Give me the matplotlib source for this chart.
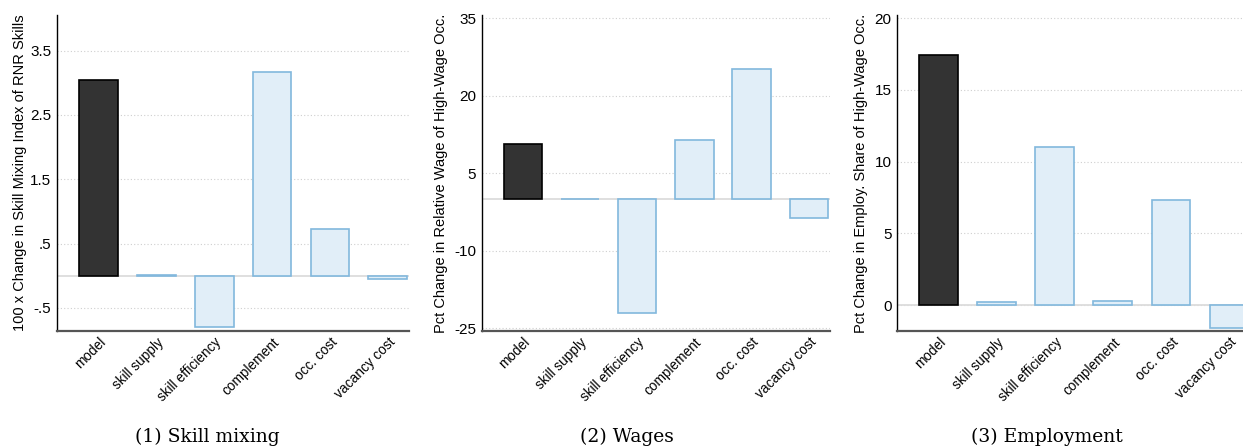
import matplotlib
matplotlib.use('Agg')
import matplotlib.pyplot as plt
import numpy as np

matplotlib.rcParams['font.family'] = ['Liberation Sans', 'DejaVu Sans']

# bar labels shared by all panels
categories = ["model", "skill supply", "skill efficiency", "complement",
              "occ. cost", "vacancy cost"]

skill_mixing = [3.05, 0.01, -0.80, 3.17, 0.72, -0.05]
wages = [10.6, 0.0, -22.1, 11.4, 25.3, -3.6]
employment = [17.4, 0.25, 11.0, 0.27, 7.35, -1.56]

ylabels = ["100 x Change in Skill Mixing Index of RNR Skills",
           "Pct Change in Relative Wage of High-Wage Occ.",
           "Pct Change in Employ. Share of High-Wage Occ."]
captions = ["(1) Skill mixing", "(2) Wages", "(3) Employment"]

yticks = [[-0.5, 0.5, 1.5, 2.5, 3.5],
          [-25, -10, 5, 20, 35],
          [0, 5, 10, 15, 20]]
yticklabels = [["-.5", ".5", "1.5", "2.5", "3.5"],
               ["-25", "-10", "5", "20", "35"],
               ["0", "5", "10", "15", "20"]]
ylims = [(-0.86, 4.05), (-25.5, 35.6), (-1.8, 20.2)]

DARK = "#333333"
LIGHT = "#e1eef8"
LIGHT_EDGE = "#82b8dd"

W, H = 1243, 448
fig = plt.figure(figsize=(W / 100, H / 100), dpi=100)

# axes boxes in pixels: left, right, top, bottom
boxes = [(56.7, 409.3), (481.7, 830.0), (897.0, 1250.5)]
top_px, bot_px = 15.3, 331.0
label_x = [-0.085, -0.096, -0.081]
caption_x = [207, 627, 1047]

datasets = [skill_mixing, wages, employment]

for j, values in enumerate(datasets):
    l, r = boxes[j]
    ax = fig.add_axes([l / W, (H - bot_px) / H, (r - l) / W,
                       (bot_px - top_px) / H])
    x = np.arange(len(categories))
    colors = [DARK] + [LIGHT] * (len(categories) - 1)
    edges = ["black"] + [LIGHT_EDGE] * (len(categories) - 1)

    for t in yticks[j]:
        ax.axhline(t, color="#cfcfcf", lw=0.8, ls=(0, (1, 2)), zorder=0)
    ax.axhline(0, color="#dcdcdc", lw=1.3, zorder=1)

    ax.bar(x, values, width=0.67, color=colors, edgecolor=edges,
           linewidth=1.2, zorder=2)

    ax.set_xlim(-0.72, 5.37)
    ax.set_ylim(*ylims[j])
    ax.set_yticks(yticks[j])
    ax.set_yticklabels(yticklabels[j], fontsize=11)
    ax.set_xticks(x)
    ax.set_xticklabels(categories, rotation=45, ha="right", va="top",
                       rotation_mode="anchor", fontsize=9.8)
    ax.tick_params(axis="both", length=0, pad=4)
    ax.tick_params(axis="x", pad=3)

    ax.spines["top"].set_visible(False)
    ax.spines["right"].set_visible(False)
    ax.spines["left"].set_color("black")
    ax.spines["left"].set_linewidth(1.0)
    ax.spines["bottom"].set_color("#555555")
    ax.spines["bottom"].set_linewidth(1.6)

    ax.set_ylabel(ylabels[j], fontsize=10.5)
    ax.yaxis.set_label_coords(label_x[j], 0.5)

    fig.text(caption_x[j] / W, (H - 437) / H, captions[j],
             family="DejaVu Serif", fontsize=13.5,
             ha="center", va="center")

fig.savefig("out.png", dpi=100)
plt.close()
